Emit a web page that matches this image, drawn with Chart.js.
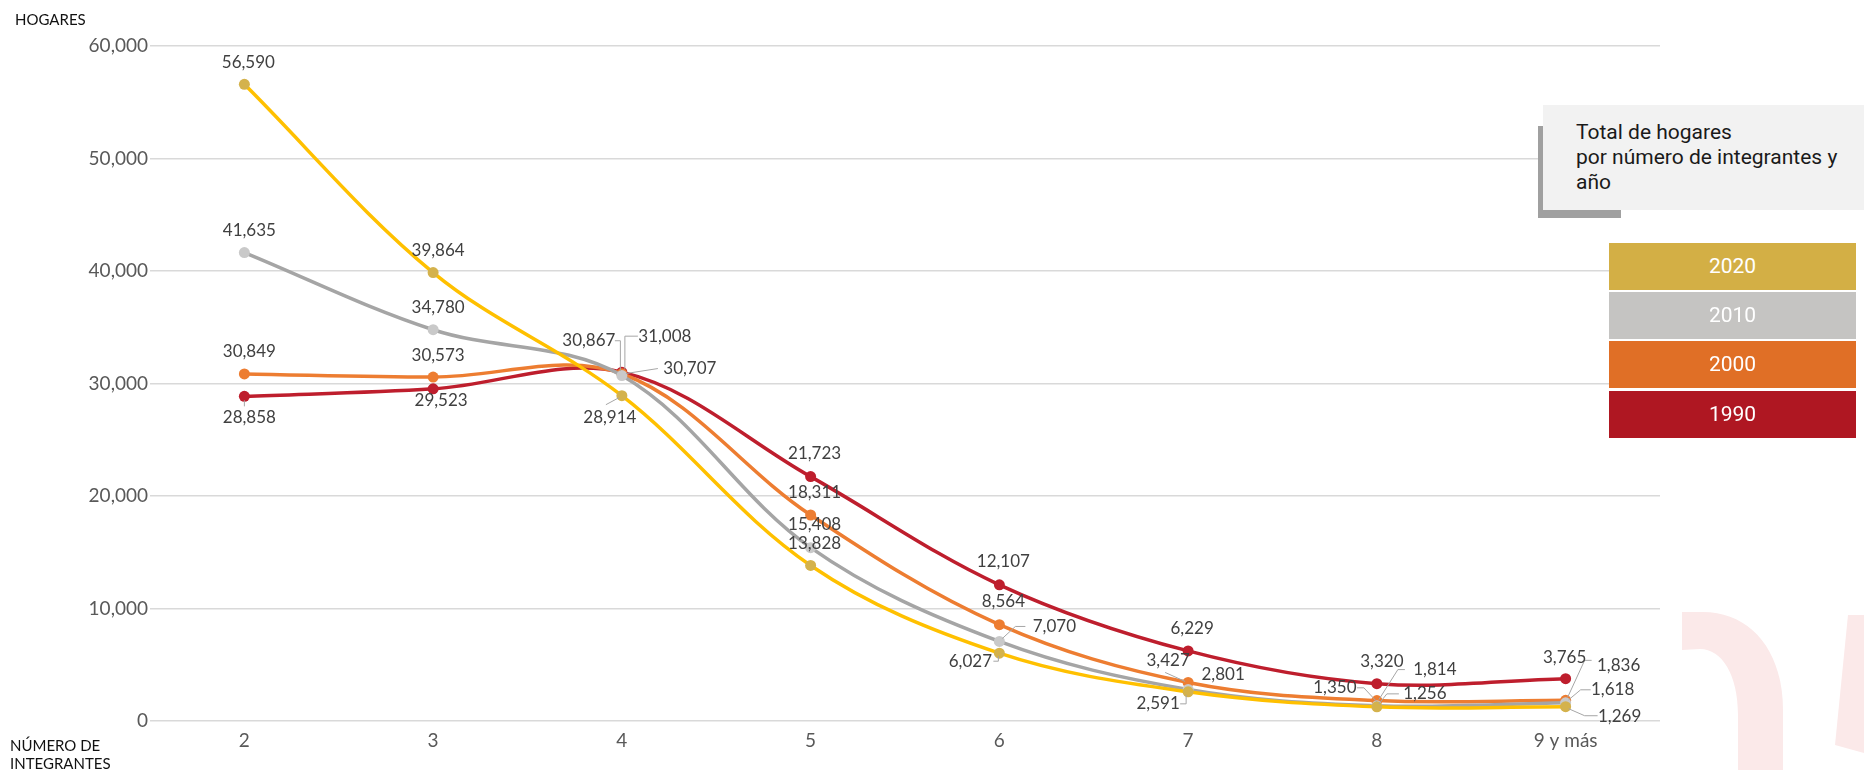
<!DOCTYPE html>
<html><head><meta charset="utf-8">
<script src="https://cdn.jsdelivr.net/npm/chart.js@4/dist/chart.umd.min.js"></script>
<style>
html,body{margin:0;padding:0;background:#fff;width:1864px;height:770px;overflow:hidden}
#wrap{position:absolute;left:0;top:0;width:1864px;height:770px}
#wm{position:absolute;left:0;top:0}
canvas{position:absolute;left:0;top:0}
.axt{position:absolute;font-family:Lato,sans-serif;font-size:15px;color:#111;line-height:18px;white-space:nowrap}
#ttlShadowL{position:absolute;left:1538px;top:126px;width:5px;height:92px;background:#A0A0A0}
#ttlShadowB{position:absolute;left:1538px;top:210px;width:83px;height:8px;background:#A0A0A0}
#ttl{position:absolute;left:1543px;top:105px;width:288px;height:90px;padding:15px 0 0 33px;background:#F2F2F2;font-family:Roboto,sans-serif;font-size:21px;line-height:25px;color:#1a1a1a;white-space:nowrap}
.lg{position:absolute;left:1609px;width:247px;height:47px;line-height:47px;text-align:center;font-family:Roboto,sans-serif;font-size:21px;color:#fff}
</style></head>
<body>
<div id="wrap">
<svg id="wm" width="1864" height="770">
  <path d="M1682 612 L1703 612 C1750 612 1783 650 1783 710 L1783 770 L1738 770 L1738 715 C1738 675 1722 649 1700 649 L1682 650 Z" fill="#FBE9E9"/>
  <path d="M1848 615 L1864 615 L1864 753 L1835 745 Z" fill="#FBE9E9"/>
</svg>
<canvas id="c" width="1864" height="770"></canvas>
<div class="axt" style="left:15px;top:10px">HOGARES</div>
<div class="axt" style="left:10px;top:736px">NÚMERO DE<br>INTEGRANTES</div>
<div id="ttlShadowL"></div><div id="ttlShadowB"></div>
<div id="ttl">Total de hogares<br>por número de integrantes y<br>año</div>
<div id="legend"></div>
</div>
<script>
// ---- DATA ----
const categories = ['2', '3', '4', '5', '6', '7', '8', '9 y más'];
const years = ['2020', '2010', '2000', '1990'];
const hogares2020 = [56590, 39864, 28914, 13828, 6027, 2591, 1256, 1269];
const hogares2010 = [41635, 34780, 30707, 15408, 7070, 2801, 1350, 1618];
const hogares2000 = [30849, 30573, 30867, 18311, 8564, 3427, 1814, 1836];
const hogares1990 = [28858, 29523, 31008, 21723, 12107, 6229, 3320, 3765];
const yTicks = [0, 10000, 20000, 30000, 40000, 50000, 60000];

// ---- STYLE ----
const lineColors = ['#FFC000', '#A5A5A5', '#ED7D31', '#BE1E2D'];
const pointColors = ['#D4B24C', '#C9C9C9', '#ED7D31', '#BE1E2D'];
const legendColors = ['#D3AF45', '#C5C4C2', '#E06F26', '#AF1722'];

// label placement: [dx, dy, leader polyline relative to point]
const labelPos = [
  [[4,-22],[5,-22],[-12,22,[[-3,2],[-16,9]]],[4,-22],[-29,8,[[-6,8],[-1,8],[-1,3]]],[-30,12,[[-8,12],[-2,12],[-2,3]]],[48,-13,[[22,-13],[10,-13],[2,-3]]],[54,10,[[32,9],[19,9],[3,2]]]],
  [[5,-22],[5,-22],[68,-7,[[36,-7],[4,-2]]],[4,-23],[55,-15,[[26,-15],[16,-15],[3,-3]]],[35,-15],[-42,-18,[[-20,-18],[-13,-18],[0,-4]]],[47,-13,[[25,-13],[15,-13],[3,-3]]]],
  [[5,-22],[5,-22],[-33,-33,[[-7,-33],[-1.5,-33],[-1.5,-3]]],[4,-22],[4,-23],[-20,-22,[[-23,-10],[-3,-1]]],[58,-31,[[28,-31],[21,-31],[2,-1]]],[53,-35,[[26,-40],[19,-40],[2,-3]]]],
  [[5,21,[[0,4],[0,10]]],[8,12],[43,-36,[[16,-36],[3,-36],[3,-3]]],[4,-23],[4,-23],[4,-22],[5,-22],[-1,-21]]
];

const fmt = v => v.toLocaleString('en-US');
const series = [hogares2020, hogares2010, hogares2000, hogares1990];

// legend
const lgEl = document.getElementById('legend');
const lgTops = [243, 292, 341, 391];
years.forEach((y, i) => {
  const d = document.createElement('div');
  d.className = 'lg';
  d.style.top = lgTops[i] + 'px';
  d.style.background = legendColors[i];
  d.textContent = y;
  lgEl.appendChild(d);
});

const labelPlugin = {
  id: 'dl',
  afterDatasetsDraw(chart) {
    const ctx = chart.ctx;
    ctx.save();
    chart.data.datasets.forEach((ds, di) => {
      const meta = chart.getDatasetMeta(di);
      meta.data.forEach((pt, i) => {
        const cfg = labelPos[di][i];
        const x = pt.x, y = pt.y;
        if (cfg[2]) {
          ctx.beginPath();
          ctx.strokeStyle = '#A6A6A6';
          ctx.lineWidth = 1;
          cfg[2].forEach((p, k) => { if (k) ctx.lineTo(x + p[0], y + p[1]); else ctx.moveTo(x + p[0], y + p[1]); });
          ctx.stroke();
        }
        ctx.fillStyle = '#404040';
        ctx.font = '17px Lato';
        ctx.textAlign = 'center';
        ctx.textBaseline = 'middle';
        ctx.fillText(fmt(ds.data[i]), x + cfg[0], y + cfg[1]);
      });
    });
    ctx.restore();
  }
};

new Chart(document.getElementById('c'), {
  type: 'line',
  data: {
    labels: categories,
    datasets: series.map((d, i) => ({
      label: years[i],
      data: d,
      borderColor: lineColors[i],
      backgroundColor: pointColors[i],
      pointBackgroundColor: pointColors[i],
      pointBorderWidth: 0,
      pointRadius: 5.5,
      borderWidth: 3.5,
      tension: 0.35,
      fill: false
    }))
  },
  options: {
    responsive: false,
    animation: false,
    layout: { padding: { top: 46, right: 204, left: 0, bottom: 0 } },
    plugins: { legend: { display: false }, tooltip: { enabled: false } },
    scales: {
      x: {
        offset: true,
        grid: { display: false, drawTicks: false },
        border: { display: false },
        ticks: { color: '#595959', font: { family: 'Lato', size: 19 }, padding: 8, maxRotation: 0 },
        afterFit: s => { s.height = 49; }
      },
      y: {
        min: 0, max: 60000,
        afterBuildTicks: s => { s.ticks = yTicks.map(v => ({ value: v })); },
        grid: { color: '#D9D9D9', lineWidth: 1.5, drawTicks: false },
        border: { display: false },
        ticks: { color: '#595959', font: { family: 'Lato', size: 19 }, padding: 2, callback: v => fmt(v) },
        afterFit: s => { s.width = 150; }
      }
    }
  },
  plugins: [labelPlugin]
});
</script>
</body></html>
